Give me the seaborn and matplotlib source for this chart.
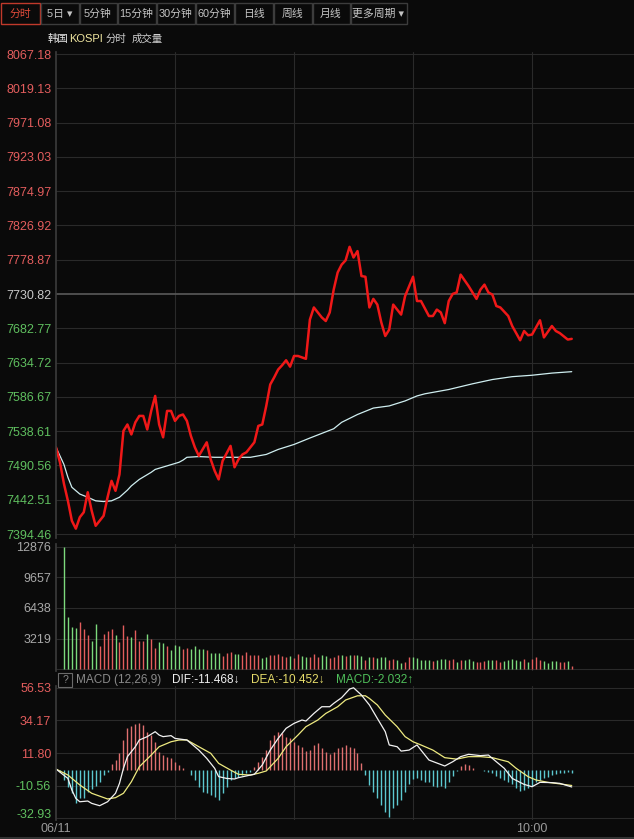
import matplotlib
matplotlib.use("Agg")
import matplotlib.pyplot as plt
from matplotlib.patches import Rectangle
from matplotlib.transforms import ScaledTranslation
import seaborn as sns

# 价格 (分钟 -> 指数点位)
price_min = [0, 1, 2, 3, 4, 5, 6, 7, 8, 9, 10, 11, 12, 13, 14, 15, 16, 17, 18, 19, 20,
             21, 22, 23, 24, 25, 26, 27, 28, 29, 30, 31, 32, 33, 34, 35, 36, 38, 39, 40,
             41, 42, 44, 45, 46, 47, 48, 50, 51, 52, 53, 54, 55, 56, 57, 58, 59, 60, 61,
             62, 63, 64, 65, 66, 67, 68, 69, 70, 71, 72, 73, 74, 75, 76, 77, 78, 79, 80,
             81, 82, 83, 84, 85, 86, 87, 88, 90, 91, 92, 94, 95, 96, 97, 98, 99, 100, 101,
             102, 104, 106, 107, 108, 109, 110, 111, 112, 114, 115, 117, 118, 119, 120,
             122, 123, 125, 126, 127, 129, 130]
price_val = [7516, 7495, 7465, 7441, 7413, 7402, 7418, 7425, 7453, 7427, 7406, 7413, 7420,
             7446, 7469, 7455, 7478, 7539, 7548, 7534, 7551, 7560, 7560, 7541, 7567, 7588,
             7548, 7530, 7567, 7567, 7553, 7560, 7562, 7553, 7532, 7516, 7504, 7523, 7499,
             7483, 7471, 7497, 7518, 7488, 7499, 7506, 7509, 7523, 7546, 7548, 7574, 7604,
             7614, 7625, 7631, 7638, 7629, 7644, 7644, 7642, 7640, 7695, 7712, 7705, 7698,
             7693, 7705, 7737, 7761, 7772, 7778, 7797, 7782, 7791, 7756, 7755, 7712, 7724,
             7716, 7691, 7672, 7681, 7716, 7709, 7702, 7728, 7755, 7721, 7721, 7700, 7700,
             7709, 7705, 7690, 7721, 7731, 7733, 7758, 7742, 7724, 7737, 7744, 7733, 7730,
             7714, 7712, 7700, 7686, 7666, 7679, 7673, 7674, 7694, 7670, 7686, 7679, 7676,
             7667, 7668]

# 均价
avg_min = [0, 2, 3, 4, 6, 8, 10, 12, 14, 16, 18, 19, 21, 24, 25, 28, 31, 32, 33, 36, 40,
           44, 49, 53, 56, 60, 64, 70, 72, 76, 80, 84, 88, 91, 93, 99, 105, 110, 115, 120,
           125, 130]
avg_val = [7516, 7492, 7474, 7460, 7450.5, 7446, 7441, 7440, 7441, 7446, 7456, 7462, 7471,
           7481, 7485, 7490, 7495, 7498, 7502, 7503, 7502, 7502, 7502, 7506, 7513, 7520,
           7529, 7542, 7551, 7562, 7571, 7574, 7581, 7588, 7591, 7597, 7605, 7611, 7615,
           7617, 7620, 7622]

# 成交量
vol_min = list(range(2, 131))
vol_val = [12880, 5460, 4480, 4305, 5005, 4200, 3605, 3010, 4760, 2450,
           3710, 4060, 4270, 3605, 2905, 4655, 3500, 3430, 4130, 3010,
           3010, 3710, 3185, 2275, 2905, 2730, 2450, 2030, 2555, 2450,
           2170, 2275, 2100, 2450, 2100, 2100, 2030, 1680, 1680, 1680,
           1400, 1680, 1820, 1610, 1575, 1505, 1820, 1470, 1540, 1540,
           1190, 1330, 1540, 1540, 1610, 1400, 1330, 1400, 1190, 1610,
           1400, 1330, 1260, 1610, 1330,
           1470, 1435, 1190, 1330, 1505, 1505, 1400, 1505, 1505, 1470,
           1400, 980, 1330, 1330, 1155, 1330, 1260, 980, 1050, 980,
           700, 805, 1330, 1260, 1155, 980, 980, 980, 875, 980,
           1085, 1050, 980, 1050, 805, 980, 980, 1050, 910, 805,
           805, 875, 980, 980, 980, 805, 910, 980, 1050, 980,
           910, 1050, 805, 1050, 1330, 980, 910, 700, 875, 910,
           805, 805, 910, 350]
vol_dir = list("GGGGRRRGGR" "RRRGRRRGRR" "RGRRGGRGGG" "RRGGGGRGGG" "RRRGGRRRRR"
               "GGRRRRRGRR" "GGRRR"
               "GGRRRGRGRG" "GRGRGGGRRG" "GRRGGGGGRG" "GGRRGRGGGR" "RRGGRRGGGG"
               "GRGRRRGGGG" "RRGR")

# MACD
macd_min = list(range(1, 131))
macd_hist = [-1.0, -6.7, -11.3, -15.8, -22.7, -19.3, -19.3, -14.7, -12.9, -10.6,
             -7.9, -3.3, -1.0, 4.0, 7.0, 11.6, 20.7, 28.7, 30.3, 31.4,
             32.1, 31.0, 26.4, 24.1, 19.5, 12.7, 10.4, 9.3, 8.1, 5.8,
             3.6, 1.3, 0.0, -3.3, -6.7, -11.3, -14.7, -15.8, -17.0, -18.1,
             -20.4, -15.8, -11.3, -6.7, -5.6, -4.4, -3.3, -2.1, -1.5, 2.4,
             5.8, 9.3, 13.8, 20.7, 24.1, 26.4, 25.2, 23.0, 21.8, 19.5,
             17.3, 16.1, 13.1, 13.8, 17.3, 18.4, 15.4, 12.7, 10.9, 12.2,
             15.0, 16.1, 17.3, 16.1, 15.0, 11.6, 4.7, -3.3, -10.1, -14.7,
             -19.3, -23.8, -28.4, -31.8, -26.1, -23.8, -20.4, -15.2, -9.7, -5.8,
             -5.6, -6.9, -8.3, -8.3, -10.6, -11.3, -10.6, -12.0, -7.9, -3.7,
             -0.5, 3.1, 4.0, 3.6, 1.7, 0.4, -0.1, -0.5, -1.0, -2.1,
             -3.7, -5.6, -6.7, -7.9, -9.7, -12.4, -14.2, -13.6, -12.4, -10.6,
             -8.3, -6.7, -5.1, -4.4, -3.3, -2.8, -2.1, -2.1, -1.5, -2.03]
dif_min = [0, 3, 4, 5, 6, 8, 9, 11, 13, 15, 16, 17, 18, 20, 21, 23, 25, 26, 27, 29,
           30, 33, 34, 36, 38, 40, 41, 43, 45, 46, 49, 50, 52, 54, 56, 58, 60, 62, 63, 65,
           67, 69, 70, 72, 74, 75, 77, 79, 81, 83, 84, 86, 87, 89, 91, 92, 94, 98, 100, 102,
           104, 107, 109, 111, 113, 115, 118, 120, 122, 125, 127, 130]
dif_val = [0.8, -5.6, -13.6, -19.3, -21.6, -21.1, -22.7, -24.3, -21.6, -15.8,
           -9.0, 1.3, 9.3, 16.1, 20.7, 23.0, 26.4, 24.1, 23.0, 23.7,
           21.8, 20.7, 18.4, 13.8, 8.1, 1.3, -4.4, -5.6, -6.0, -5.1,
           -3.3, -2.8, 3.6, 13.8, 21.8, 28.7, 32.1, 34.4, 33.7, 38.9,
           43.5, 43.5, 45.8, 49.7, 55.6, 56.5, 51.5, 44.7, 35.5, 26.4,
           17.3, 16.1, 13.1, 13.8, 17.3, 13.8, 7.0, 2.9, 5.8, 9.3,
           10.9, 10.0, 10.4, 5.8, 1.3, -5.6, -9.7, -11.3, -8.3, -8.5,
           -9.0, -11.47]
dea_min = [0, 3, 6, 9, 13, 15, 17, 19, 21, 24, 26, 29, 31, 33, 36, 39, 41, 44, 46, 49,
           51, 53, 56, 58, 61, 63, 66, 68, 71, 73, 76, 78, 79, 81, 83, 86, 88, 90, 92, 95,
           98, 101, 104, 107, 110, 114, 116, 119, 121, 124, 126, 130]
dea_val = [0.8, -3.3, -10.1, -15.8, -19.7, -18.8, -15.8, -7.9, 2.4, 10.4,
           16.1, 19.5, 20.7, 20.7, 16.1, 11.6, 4.7, 0.1, -2.8, -3.3,
           -2.1, -0.5, 8.1, 16.1, 24.1, 29.8, 34.4, 38.9, 43.5, 48.1,
           51.0, 51.0, 49.2, 44.7, 37.8, 29.8, 23.0, 19.5, 17.3, 13.8,
           8.6, 7.6, 9.3, 9.3, 8.6, 5.8, 1.3, -4.4, -6.7, -8.3,
           -9.0, -10.45]

price_ticks = [8067.18, 8019.13, 7971.08, 7923.03, 7874.97, 7826.92, 7778.87, 7730.82,
               7682.77, 7634.72, 7586.67, 7538.61, 7490.56, 7442.51, 7394.46]
prev_close = 7730.82
vol_ticks = [12876, 9657, 6438, 3219]
macd_ticks = [56.53, 34.17, 11.80, -10.56, -32.93]
time_grid = [30, 60, 90, 120]
time_labels = {0: "06/11", 120: "10:00"}
periods = ["分时", "5日 ▾", "5分钟", "15分钟", "30分钟", "60分钟", "日线", "周线", "月线", "更多周期 ▾"]

BG = "#0a0a0a"
RED = "#e35d5d"
GREEN = "#5fbf5f"
GRID = "#2a2a2a"

sns.set_theme(style="dark", rc={"axes.facecolor": BG, "figure.facecolor": BG})
plt.rcParams["font.family"] = ["Liberation Sans", "Noto Sans CJK SC", "DejaVu Sans"]

W, H = 634, 839
fig = plt.figure(figsize=(W / 100, H / 100), dpi=100)


def panel(top, bottom):
    ax = fig.add_axes([56 / W, 1 - bottom / H, (W - 56) / W, (bottom - top) / H])
    ax.set_facecolor(BG)
    for s in ["top", "right", "bottom"]:
        ax.spines[s].set_visible(False)
    ax.spines["left"].set_color("#3a3a3a")
    ax.set_xlim(0, 145.7)
    ax.set_xticks([])
    ax.tick_params(axis="y", length=0, pad=3.5, labelsize=9)
    ax.grid(False)
    for t in time_grid:
        ax.axvline(t, color=GRID, lw=0.8, zorder=0)
    return ax


# 主图
ax = panel(52, 538)
ax.set_ylim(7388.9, 8070.0)
for v in price_ticks:
    if v == prev_close:
        ax.axhline(v, color="#5a5a5a", lw=1.2, zorder=0)
    else:
        ax.axhline(v, color=GRID, lw=0.8, zorder=0)
ax.set_yticks(price_ticks)
ax.set_yticklabels([f"{v:.2f}" for v in price_ticks])
for lab, v in zip(ax.get_yticklabels(), price_ticks):
    lab.set_color("#c8c8c8" if v == prev_close else (RED if v > prev_close else GREEN))
sns.lineplot(x=avg_min, y=avg_val, ax=ax, color="#cfeef0", lw=0.9, sort=False, estimator=None)
sns.lineplot(x=price_min, y=price_val, ax=ax, color="#f01818", lw=1.8, sort=False, estimator=None)
ax.set_xlabel("")
ax.set_ylabel("")

# 成交量
axv = panel(544, 671)
axv.set_ylim(-180, 13160)
for v in vol_ticks + [0]:
    axv.axhline(v, color=GRID, lw=0.8, zorder=0)
axv.set_yticks(vol_ticks)
axv.set_yticklabels([str(v) for v in vol_ticks], color="#a8a8a8")
axv.vlines(vol_min, 0, vol_val, lw=1.0,
           colors=[RED if d == "R" else "#7cd97c" for d in vol_dir])

# MACD
axm = panel(686, 820)
axm.set_ylim(-34.1, 57.7)
for v in macd_ticks:
    axm.axhline(v, color=GRID, lw=0.8, zorder=0)
axm.set_yticks(macd_ticks)
axm.set_yticklabels([f"{v:.2f}" for v in macd_ticks])
for lab, v in zip(axm.get_yticklabels(), macd_ticks):
    lab.set_color(RED if v > 0 else GREEN)
    if v == macd_ticks[-1]:
        lab.set_transform(lab.get_transform() + ScaledTranslation(0, 0.05, fig.dpi_scale_trans))
axm.vlines(macd_min, 0, macd_hist, lw=1.0,
           colors=["#e07070" if h >= 0 else "#5cc8d0" for h in macd_hist])
sns.lineplot(x=dea_min, y=dea_val, ax=axm, color="#eeea80", lw=0.9, sort=False, estimator=None)
sns.lineplot(x=dif_min, y=dif_val, ax=axm, color="#f2f2f2", lw=0.9, sort=False, estimator=None)
axm.set_xlabel("")
axm.set_ylabel("")
for t, s in time_labels.items():
    axm.text(t, -40.0, s, ha="center", va="center", fontsize=9, color="#9a9a9a", clip_on=False)

# 顶部按钮 / 标题
ov = fig.add_axes([0, 0, 1, 1], facecolor="none")
ov.set_xlim(0, W)
ov.set_ylim(H, 0)
ov.axis("off")
edges = [0, 40, 79, 117, 156, 195, 234, 273, 312, 350, 407]
for k, name in enumerate(periods):
    x0, x1 = edges[k], edges[k + 1]
    ov.add_patch(Rectangle((x0 + 0.5, 3), x1 - x0 - 1, 21, fill=False,
                           ec="#c0392b" if k == 0 else "#3c3c3c", lw=1))
    ov.text((x0 + x1) / 2, 14, name, ha="center", va="center", fontsize=7.8,
            color="#e04a3a" if k == 0 else "#c4c4c4")
ov.plot([0, W], [837.5, 837.5], color="#333333", lw=1.5)

ov.text(48, 39, "韩国", fontsize=7.5, color="#e8e8e8", va="center")
ov.text(69, 39, "KOSPI", fontsize=8, color="#f0e6a0", va="center")
ov.text(106, 39, "分时", fontsize=7.5, color="#d0d0d0", va="center")
ov.text(132, 39, "成交量", fontsize=7.5, color="#d0d0d0", va="center")

ov.add_patch(Rectangle((58, 673), 14, 14, fill=False, ec="#6a6a6a", lw=0.8))
ov.text(65, 680, "?", ha="center", va="center", fontsize=7.5, color="#8a8a8a")
ov.text(76, 680, "MACD (12,26,9)", fontsize=8.5, color="#8a8a8a", va="center")
ov.text(172, 680, "DIF:-11.468↓", fontsize=8.5, color="#f0f0f0", va="center")
ov.text(251, 680, "DEA:-10.452↓", fontsize=8.5, color="#e6dc6a", va="center")
ov.text(336, 680, "MACD:-2.032↑", fontsize=8.5, color="#4fbf5a", va="center")

fig.savefig("out.png", dpi=100, facecolor=BG)
